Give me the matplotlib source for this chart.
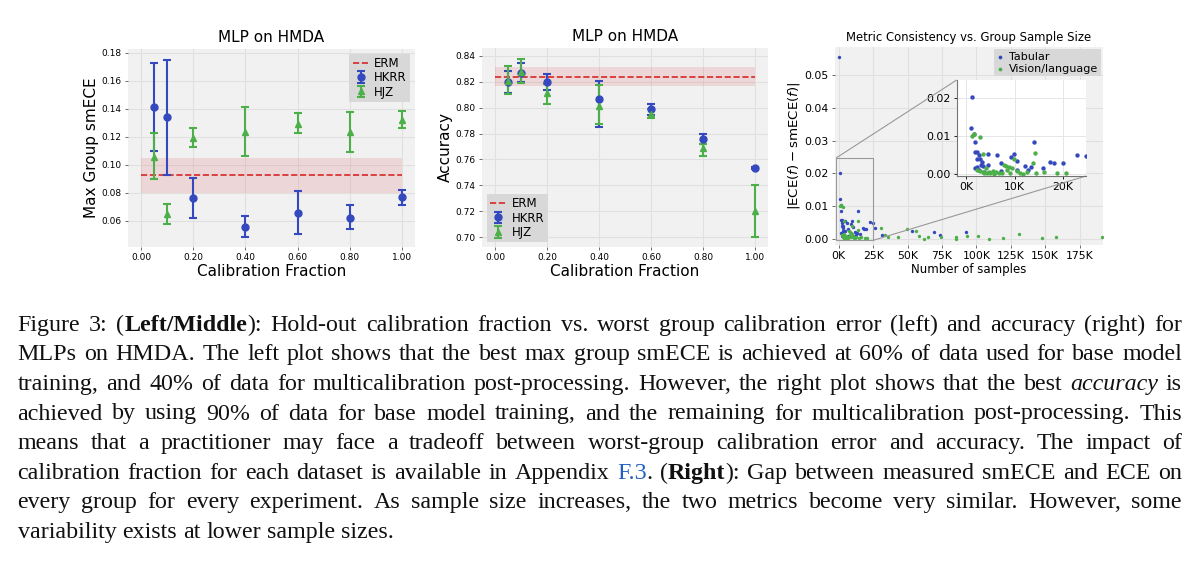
import re
import matplotlib
matplotlib.use('Agg')
import matplotlib.pyplot as plt
from matplotlib.ticker import FuncFormatter
from mpl_toolkits.axes_grid1.inset_locator import mark_inset

# calibration fractions (x axis of left / middle panels)
frac = [0.05, 0.1, 0.2, 0.4, 0.6, 0.8, 1.0]

# left panel: max group smECE (mean, lower, upper)
hkrr_smece = [0.141, 0.134, 0.0763, 0.0557, 0.0657, 0.0623, 0.0768]
hkrr_smece_lo = [0.1095, 0.0929, 0.0621, 0.0484, 0.0503, 0.0541, 0.0716]
hkrr_smece_hi = [0.1724, 0.175, 0.0905, 0.0631, 0.0813, 0.0711, 0.082]
hjz_smece = [0.1054, 0.0645, 0.1189, 0.1232, 0.1291, 0.1232, 0.132]
hjz_smece_lo = [0.0896, 0.0576, 0.1125, 0.1064, 0.1225, 0.1088, 0.1265]
hjz_smece_hi = [0.1225, 0.0723, 0.126, 0.141, 0.1367, 0.1379, 0.1383]
erm_smece = 0.0924
erm_smece_band = (0.0799, 0.1047)

# middle panel: accuracy
hkrr_acc = [0.8196, 0.8266, 0.8196, 0.8065, 0.7987, 0.7758, 0.7536]
hkrr_acc_lo = [0.8115, 0.8195, 0.8135, 0.7853, 0.7944, 0.7722, 0.7530]
hkrr_acc_hi = [0.8284, 0.8343, 0.826, 0.8205, 0.8031, 0.7794, 0.7542]
hjz_acc = [0.8207, 0.8276, 0.8114, 0.8013, 0.7954, 0.7686, 0.720]
hjz_acc_lo = [0.8109, 0.8190, 0.8031, 0.7877, 0.7918, 0.7629, 0.700]
hjz_acc_hi = [0.8323, 0.8379, 0.8185, 0.8176, 0.7990, 0.7717, 0.7407]
erm_acc = 0.8235
erm_acc_band = (0.8165, 0.831)

# right panel: group sample size vs |ECE - smECE|
tab_n = [300, 1100, 900, 1500, 1700, 1800, 2200, 2700, 2300, 2900, 3200, 3000,
         3400, 1800, 2300, 4500, 4400, 6300, 7100, 9200, 9900, 10500, 12100,
         13300, 12800, 14100, 15800, 17300, 18100, 20000, 22900, 24800, 7100,
         10400, 2600, 3600, 26700, 31500, 53500, 69000, 73900, 92800]
tab_gap = [0.0556, 0.0202, 0.0121, 0.0104, 0.0084, 0.0059, 0.0059, 0.0049,
           0.0040, 0.0039, 0.0032, 0.0025, 0.0021, 0.0017, 0.0018, 0.0054,
           0.0023, 0.0049, 0.0030, 0.0046, 0.0054, 0.0035, 0.0021, 0.0018,
           0.0012, 0.0084, 0.0016, 0.0033, 0.0029, 0.0030, 0.0051, 0.0047,
           0.0008, 0.0010, 0.0010, 0.0006, 0.0033, 0.0012, 0.0025, 0.0020,
           0.0012, 0.0022]
vis_n = [1200, 1600, 2900, 3500, 2900, 3400, 3700, 4200, 4700, 5000, 5800,
         6100, 6800, 7800, 8300, 8500, 9500, 8900, 9800, 10500, 11200, 11800,
         13800, 14200, 14500, 16000, 18800, 20700, 2200, 4000, 5500, 7400,
         9000, 12500, 30900, 33300, 35700, 43000, 49600, 56000, 58000, 61700,
         65000, 74000, 85000, 85500, 93000, 101000, 109000, 119000, 130700,
         147700, 158000, 191000]
vis_gap = [0.0101, 0.0104, 0.0098, 0.0054, 0.0008, 0.0005, 0.0003, 0.0003,
           0.0005, 0.0003, 0.0001, 0.0006, 0.0003, 0.0024, 0.0021, 0.0012,
           0.0015, 0.0018, 0.0039, 0.0008, 0.0003, 0.0001, 0.0028, 0.0055,
           0.0003, 0.0006, 0.0003, 0.0002, 0.0012, 0.0015, 0.0009, 0.0004,
           0.0004, 0.0006, 0.0032, 0.0011, 0.0006, 0.0005, 0.0030, 0.0024,
           0.0010, 0.0000, 0.0007, 0.0006, 0.0000, 0.0005, 0.0008, 0.0009,
           0.0000, 0.0003, 0.0014, 0.0002, 0.0007, 0.0006]

caption_lines = [
    "Figure 3: (**Left/Middle**): Hold-out calibration fraction vs. worst group calibration error (left) and accuracy (right) for",
    "MLPs on HMDA. The left plot shows that the best max group smECE is achieved at 60% of data used for base model",
    "training, and 40% of data for multicalibration post-processing. However, the right plot shows that the best _accuracy_ is",
    "achieved by using 90% of data for base model training, and the remaining for multicalibration post-processing. This",
    "means that a practitioner may face a tradeoff between worst-group calibration error and accuracy. The impact of",
    "calibration fraction for each dataset is available in Appendix [F.3]. (**Right**): Gap between measured smECE and ECE on",
    "every group for every experiment. As sample size increases, the two metrics become very similar. However, some",
    "variability exists at lower sample sizes.",
]

BLUE = '#3549be'
GREEN = '#4daf4a'
RED = '#d62728'
BG = '#f1f1f1'
GRID = '#e0e0e0'

W, H = 1200, 564
fig = plt.figure(figsize=(12, 5.64), dpi=100)


def style(ax, tick_size):
    ax.set_facecolor(BG)
    for s in ax.spines.values():
        s.set_visible(False)
    ax.grid(True, color=GRID, lw=0.8)
    ax.set_axisbelow(True)
    ax.tick_params(labelsize=tick_size, length=2.5, width=0.6, color='#555555', pad=2)


def err(mean, lo, hi):
    return [[m - l for m, l in zip(mean, lo)], [h - m for m, h in zip(mean, hi)]]


def frac_panel(rect, hk, hk_lo, hk_hi, hj, hj_lo, hj_hi, erm, band, ylabel, ylim, loc):
    ax = fig.add_axes(rect)
    style(ax, 6.5)
    ax.fill_between([0, 1], band[0], band[1], color=RED, alpha=0.13, lw=0)
    ax.plot([0, 1], [erm, erm], ls='--', color=RED, lw=1.2, label='ERM')
    ax.errorbar(frac, hk, yerr=err(hk, hk_lo, hk_hi), fmt='o', color=BLUE, ms=5,
                lw=1.5, capsize=3.2, capthick=1.5, label='HKRR')
    ax.errorbar(frac, hj, yerr=err(hj, hj_lo, hj_hi), fmt='^', color=GREEN, ms=5,
                lw=1.5, capsize=3.2, capthick=1.5, label='HJZ')
    ax.set_xlim(-0.05, 1.05)
    ax.set_ylim(*ylim)
    ax.set_xticks([0, 0.2, 0.4, 0.6, 0.8, 1.0])
    ax.xaxis.set_major_formatter(FuncFormatter(lambda v, p: f'{v:.2f}'))
    ax.yaxis.set_major_formatter(FuncFormatter(lambda v, p: f'{v:.2f}'))
    ax.set_title('MLP on HMDA', fontsize=11, pad=5)
    ax.set_xlabel('Calibration Fraction', fontsize=11, labelpad=1)
    ax.set_ylabel(ylabel, fontsize=11, labelpad=2)
    ax.legend(loc=loc, fontsize=8.5, frameon=True, facecolor='#d8d8d8',
              edgecolor='none', framealpha=1, fancybox=False,
              handlelength=1.3, handletextpad=0.5, borderpad=0.3,
              labelspacing=0.1, borderaxespad=0.4)
    return ax


frac_panel([128 / W, 1 - 247 / H, 287 / W, 198 / H], hkrr_smece, hkrr_smece_lo,
           hkrr_smece_hi, hjz_smece, hjz_smece_lo, hjz_smece_hi, erm_smece,
           erm_smece_band, 'Max Group smECE', (0.0413, 0.1826), 'upper right')
ax2 = frac_panel([482 / W, 1 - 247 / H, 286 / W, 199 / H], hkrr_acc, hkrr_acc_lo,
                 hkrr_acc_hi, hjz_acc, hjz_acc_lo, hjz_acc_hi, erm_acc,
                 erm_acc_band, 'Accuracy', (0.6925, 0.846), 'lower left')
ax2.set_yticks([0.70, 0.72, 0.74, 0.76, 0.78, 0.80, 0.82, 0.84])

# right panel
kfmt = FuncFormatter(lambda v, p: f'{int(round(v / 1000))}K')
ax3 = fig.add_axes([835 / W, 1 - 245 / H, 268 / W, 198 / H])
style(ax3, 7.8)
ax3.scatter(tab_n, tab_gap, s=6, color=BLUE, label='Tabular', lw=0)
ax3.scatter(vis_n, vis_gap, s=6, color=GREEN, label='Vision/language', lw=0)
ax3.set_xlim(-2700, 192000)
ax3.set_ylim(-0.0019, 0.0587)
ax3.set_xticks(range(0, 175001, 25000))
ax3.xaxis.set_major_formatter(kfmt)
ax3.yaxis.set_major_formatter(FuncFormatter(lambda v, p: f'{v:.2f}'))
ax3.set_title('Metric Consistency vs. Group Sample Size', fontsize=8.35, pad=4)
ax3.set_xlabel('Number of samples', fontsize=8.5, labelpad=1)
ax3.set_ylabel(r'$|\mathrm{ECE}(f) - \mathrm{smECE}(f)|$', fontsize=9.6, labelpad=2)
ax3.legend(loc='upper right', fontsize=8.0, frameon=True, facecolor='#d8d8d8',
           edgecolor='none', framealpha=1, fancybox=False, handlelength=0.6,
           borderpad=0.25, labelspacing=0.15, handletextpad=0.5, markerscale=1.1,
           borderaxespad=0.2)

axins = fig.add_axes([956.7 / W, 1 - 176 / H, 129.3 / W, 96 / H])
axins.set_facecolor('white')
axins.grid(True, color='#e6e6e6', lw=0.7)
axins.set_axisbelow(True)
for s in axins.spines.values():
    s.set_visible(False)
for side in ('left', 'bottom'):
    axins.spines[side].set_visible(True)
    axins.spines[side].set_color('0.45')
    axins.spines[side].set_linewidth(0.8)
axins.scatter(tab_n, tab_gap, s=10, color=BLUE, lw=0)
axins.scatter(vis_n, vis_gap, s=10, color=GREEN, lw=0)
axins.set_xlim(-2000, 24800)
axins.set_ylim(-0.0005, 0.0247)
axins.set_xticks([0, 10000, 20000])
axins.set_yticks([0, 0.01, 0.02])
axins.xaxis.set_major_formatter(kfmt)
axins.yaxis.set_major_formatter(FuncFormatter(lambda v, p: f'{v:.2f}'))
axins.tick_params(labelsize=7.8, length=2.5, width=0.6, pad=2)
mark_inset(ax3, axins, loc1=2, loc2=4, fc='none', ec='0.6', lw=0.8)

# caption, justified
renderer = fig.canvas.get_renderer()
cap_kw = dict(family='Liberation Serif', fontsize=17.3, color='#111111')
tok = re.compile(r'\*\*(.+?)\*\*|_(.+?)_|\[(.+?)\]|([^*_\[\]]+)')


def pieces(word):
    out = []
    for m in tok.finditer(word):
        kw = dict(cap_kw)
        if m.group(1):
            txt = m.group(1); kw['weight'] = 'bold'
        elif m.group(2):
            txt = m.group(2); kw['style'] = 'italic'
        elif m.group(3):
            txt = m.group(3); kw['color'] = '#1f5fbf'
        else:
            txt = m.group(4)
        t = fig.text(0, 0, txt, **kw)
        w = t.get_window_extent(renderer).width
        t.remove()
        out.append((txt, kw, w))
    return out


space_t = fig.text(0, 0, 'a a', **cap_kw)
aa_t = fig.text(0, 0, 'aa', **cap_kw)
space_w = space_t.get_window_extent(renderer).width - aa_t.get_window_extent(renderer).width
space_t.remove()
aa_t.remove()

x0, x1 = 17.5, 1182
base0, step = 330.7, 29.6
for i, line in enumerate(caption_lines):
    words = [pieces(w) for w in line.split(' ')]
    widths = [sum(p[2] for p in w) for w in words]
    last = i == len(caption_lines) - 1
    gap = space_w if last else (x1 - x0 - sum(widths)) / (len(words) - 1)
    x = x0
    y = 1 - (base0 + i * step) / H
    for w in words:
        for txt, kw, pw in w:
            fig.text(x / W, y, txt, va='baseline', ha='left', **kw)
            x += pw
        x += gap

fig.savefig('out.png', dpi=100)
